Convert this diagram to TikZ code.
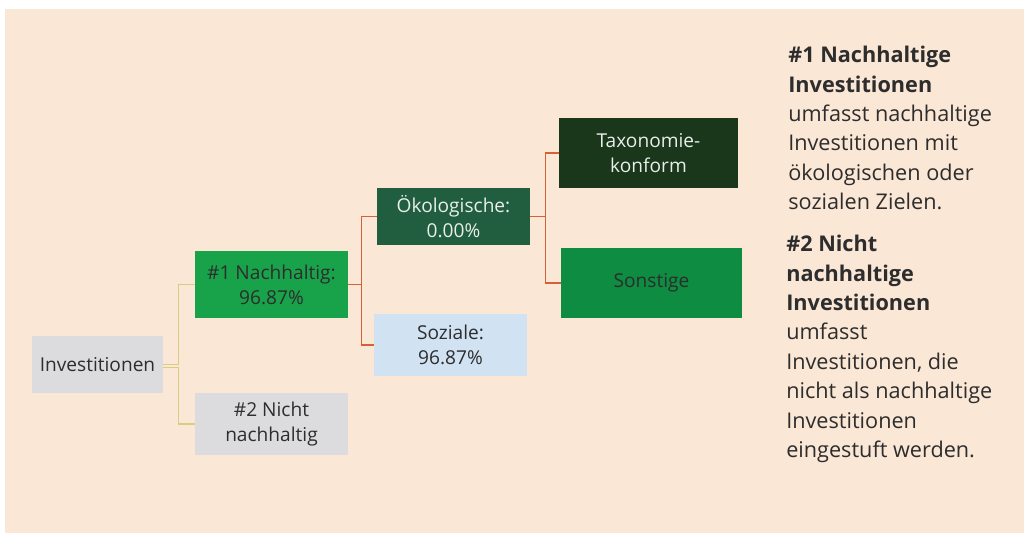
\documentclass[tikz,border=0pt]{standalone}
\usepackage{fontspec}
\setmainfont{Open Sans}
\definecolor{bg}{RGB}{250,231,214}
\definecolor{boxgray}{RGB}{220,220,222}
\definecolor{greenA}{RGB}{24,163,74}
\definecolor{greenB}{RGB}{33,94,64}
\definecolor{greenC}{RGB}{26,54,27}
\definecolor{greenD}{RGB}{13,140,66}
\definecolor{lightblue}{RGB}{209,226,243}
\definecolor{linegold}{RGB}{218,205,130}
\definecolor{lineorange}{RGB}{214,96,56}
\definecolor{txt}{RGB}{45,45,45}
\definecolor{txtlight}{RGB}{232,238,232}
\newcommand{\boxfont}{\fontsize{13.6}{17.8}\selectfont}
\newcommand{\notefont}{\fontsize{15.4}{20.9}\selectfont}
\begin{document}
\begin{tikzpicture}[x=0.025cm, y=-0.025cm,
	box/.style={rectangle, inner sep=0pt, align=center, text=txt, font=\boxfont},
	note/.style={inner sep=0pt, align=left, anchor=north west, text=txt, font=\notefont},
	yline/.style={draw=linegold, line width=1.1pt},
	oline/.style={draw=lineorange, line width=1.1pt}]
	\useasboundingbox (0,0) rectangle (1024,532);
	\fill[bg] (5,9) rectangle (1040,550);
	
	\node (1) at (97.5,364.5) [box, fill=boxgray, minimum width=3.275cm, minimum height=1.425cm]{Investitionen};
	\node (2) at (271.5,284.5) [box, fill=greenA, minimum width=3.825cm, minimum height=1.675cm]{\#1 Nachhaltig:\\96.87\%};
	\node (3) at (271.5,424) [box, fill=boxgray, minimum width=3.825cm, minimum height=1.55cm]{\#2 Nicht\\nachhaltig};
	\node (4) at (453.5,216.5) [box, fill=greenB, text=txtlight, minimum width=3.825cm, minimum height=1.425cm]{Ökologische:\\0.00\%};
	\node (5) at (450.5,345) [box, fill=lightblue, minimum width=3.825cm, minimum height=1.55cm]{Soziale:\\96.87\%};
	\node (6) at (648.5,153) [box, fill=greenC, text=txtlight, minimum width=4.475cm, minimum height=1.75cm]{Taxonomie-\\konform};
	\node (7) at (651.5,283) [box, fill=greenD, minimum width=4.525cm, minimum height=1.75cm]{Sonstige};
	
	\node (8) at (788,46) [note]{\textbf{\#1 Nachhaltige}\\\textbf{Investitionen}\\umfasst nachhaltige\\Investitionen mit\\ökologischen oder\\sozialen Zielen.};
	\node (9) at (786,235) [note]{\textbf{\#2 Nicht}\\\textbf{nachhaltige}\\\textbf{Investitionen}\\umfasst\\Investitionen, die\\nicht als nachhaltige\\Investitionen\\eingestuft werden.};
	
	\draw[yline] (1.east) -- ++(15,0) |- (2.west);
	\draw[yline] ([yshift=-0.075cm]1.east) -- ++(15,0) |- (3.west);
	\draw[oline] (2.east) -- ++(13,0) |- (4.west);
	\draw[oline] (2.east) -- ++(13,0) |- (5.west);
	\draw[oline] (4.east) -- ++(15,0) |- (6.west);
	\draw[oline] (4.east) -- ++(15,0) |- (7.west);
	
\end{tikzpicture}
\end{document}
